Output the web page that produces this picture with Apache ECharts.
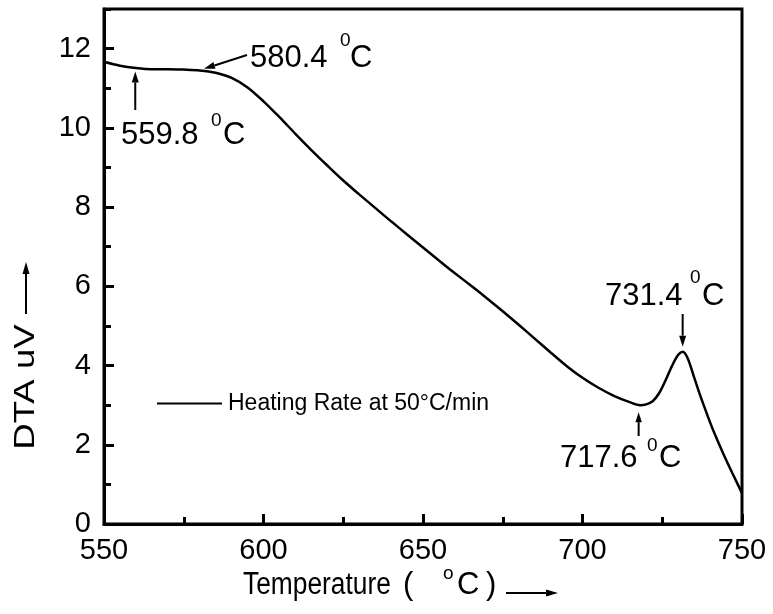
<!DOCTYPE html>
<html>
<head>
<meta charset="utf-8">
<title>DTA curve</title>
<script src="https://cdn.jsdelivr.net/npm/echarts@6/dist/echarts.min.js"></script>
<style>
  html, body { margin: 0; padding: 0; background: #ffffff; }
  #main { width: 773px; height: 614px; }
</style>
</head>
<body>
<div id="main"></div>
<script>
// DTA signal (uV) against temperature (°C), heating rate 50 °C/min
const temperatures = [550, 555, 560, 565, 570, 575, 580, 585, 590, 595,
  600, 605, 610, 615, 620, 625, 630, 635, 640, 645,
  650, 655, 660, 665, 670, 675, 680, 685, 690, 695,
  700, 705, 710, 715, 718, 720, 722, 724, 726, 728,
  730, 731.4, 733, 735, 737, 739, 741, 744, 747, 750];
const dtaValues = [11.67, 11.57, 11.51, 11.48, 11.48, 11.47, 11.45, 11.39, 11.26, 11.02,
  10.67, 10.27, 9.85, 9.44, 9.05, 8.67, 8.32, 7.98, 7.64, 7.31,
  6.98, 6.65, 6.33, 6.02, 5.70, 5.37, 5.03, 4.68, 4.33, 3.99,
  3.69, 3.44, 3.23, 3.07, 3.00, 3.02, 3.10, 3.30, 3.62, 3.98,
  4.27, 4.35, 4.18, 3.70, 3.22, 2.78, 2.36, 1.80, 1.28, 0.78];

const xTickLabels = [550, 600, 650, 700, 750];
const yTickLabels = [0, 2, 4, 6, 8, 10, 12];
const yTop = 13;

// Characteristic temperatures marked on the curve
const markTemps = [559.8, 580.4, 717.6, 731.4];
const markValues = [11.50, 11.44, 3.00, 4.35];
const markLabels = ['559.8', '580.4', '717.6', '731.4'];

const seriesName = 'Heating Rate at 50°C/min';
const FONT = '"Liberation Sans", Arial, Helvetica, sans-serif';

const chart = echarts.init(document.getElementById('main'), null, { renderer: 'canvas' });

const xMin = xTickLabels[0], xMax = xTickLabels[xTickLabels.length - 1];
const xStep = xTickLabels[1] - xTickLabels[0];

const option = {
  backgroundColor: '#ffffff',
  animation: false,
  grid: {
    left: 104, right: 31, top: 9, bottom: 90,
    show: true, borderColor: '#000', borderWidth: 3, backgroundColor: 'transparent'
  },
  legend: {
    left: 157, top: 392, padding: 0,
    data: [seriesName],
    icon: 'rect', itemWidth: 65, itemHeight: 2,
    itemStyle: { color: '#000' },
    textStyle: { fontFamily: FONT, fontSize: 23, color: '#000', padding: [0, 0, 0, 1] }
  },
  xAxis: [{
    type: 'value',
    min: xMin, max: xMax, interval: xStep,
    axisLine: { show: true, onZero: false, lineStyle: { color: '#000', width: 3 } },
    axisTick: { show: true, inside: true, length: 10, lineStyle: { color: '#000', width: 3 } },
    splitLine: { show: false },
    axisLabel: { color: '#000', fontFamily: FONT, fontSize: 29, margin: 12 }
  }, {
    // half-step minor ticks
    type: 'value',
    position: 'bottom',
    min: xMin, max: xMax, interval: xStep / 2,
    axisLine: { show: false, onZero: false },
    axisTick: { show: true, inside: true, length: 7, lineStyle: { color: '#000', width: 3 } },
    splitLine: { show: false },
    axisLabel: { show: false }
  }],
  yAxis: [{
    type: 'value',
    min: yTickLabels[0], max: yTop,
    interval: yTickLabels[1] - yTickLabels[0],
    axisLine: { show: true, onZero: false, lineStyle: { color: '#000', width: 3 } },
    axisTick: { show: true, inside: true, length: 10, lineStyle: { color: '#000', width: 3 } },
    splitLine: { show: false },
    axisLabel: { color: '#000', fontFamily: FONT, fontSize: 29, margin: 13, showMaxLabel: false }
  }, {
    // minor ticks at every unit
    type: 'value',
    position: 'left',
    min: yTickLabels[0], max: yTop, interval: 1,
    axisLine: { show: false, onZero: false },
    axisTick: { show: true, inside: true, length: 7, lineStyle: { color: '#000', width: 3 } },
    splitLine: { show: false },
    axisLabel: { show: false }
  }],
  series: [{
    name: seriesName,
    type: 'line',
    xAxisIndex: 0,
    yAxisIndex: 0,
    data: temperatures.map((t, i) => [t, dtaValues[i]]),
    smooth: 0.3,
    symbol: 'none',
    lineStyle: { color: '#000', width: 2.5 },
    itemStyle: { color: '#000' }
  }]
};

chart.setOption(option);

// ---- annotations -------------------------------------------------------
const toPx = (t, v) => chart.convertToPixel({ seriesIndex: 0 }, [t, v]);

function arrow(tail, tip, headLen, headW) {
  headLen = headLen || 10; headW = headW || 3.5;
  const dx = tip[0] - tail[0], dy = tip[1] - tail[1];
  const L = Math.hypot(dx, dy), ux = dx / L, uy = dy / L;
  const bx = tip[0] - ux * headLen, by = tip[1] - uy * headLen;
  const nx = -uy, ny = ux;
  return [
    { type: 'line', silent: true,
      shape: { x1: tail[0], y1: tail[1], x2: bx, y2: by },
      style: { stroke: '#000', lineWidth: 2 } },
    { type: 'polygon', silent: true,
      shape: { points: [[tip[0], tip[1]], [bx + nx * headW, by + ny * headW], [bx - nx * headW, by - ny * headW]] },
      style: { fill: '#000' } }
  ];
}

function txt(x, y, s, size, align, extra) {
  const el = {
    type: 'text', x: x, y: y, silent: true,
    style: {
      text: s, fill: '#000', font: size + 'px ' + FONT,
      align: align || 'left', verticalAlign: 'middle',
      textAlign: align || 'left', textVerticalAlign: 'middle'
    }
  };
  return Object.assign(el, extra || {});
}

// temperature label: number, raised "0", then "C"
function tempLabel(num, left, cy, supLeft, supCy, cLeft) {
  return [txt(left, cy, num, 31), txt(supLeft, supCy, '0', 19), txt(cLeft, cy, 'C', 31)];
}

const tips = markTemps.map((t, i) => toPx(t, markValues[i]));
let g = [];

// 559.8 — arrow from below
g = g.concat(arrow([tips[0][0], 110], [tips[0][0], tips[0][1] + 3], 11, 3.5));
g = g.concat(tempLabel(markLabels[0], 121, 135, 211, 121, 223));

// 580.4 — slanted arrow from the label
g = g.concat(arrow([247, 55], [tips[1][0] + 3, tips[1][1] - 2], 11, 3.5));
g = g.concat(tempLabel(markLabels[1], 250, 58, 340, 41, 350));

// 717.6 — arrow from below
g = g.concat(arrow([tips[2][0], 436], [tips[2][0], tips[2][1] + 7], 10, 3.2));
g = g.concat(tempLabel(markLabels[2], 560, 458, 647, 446, 659));

// 731.4 — arrow from above
g = g.concat(arrow([tips[3][0], 314], [tips[3][0], tips[3][1] - 5], 11, 3.5));
g = g.concat(tempLabel(markLabels[3], 605, 296, 690, 278, 702));

// ---- axis titles ----------------------------------------------------------
// x title: Temperature ( °C ) →   (slightly condensed lettering)
g.push(txt(243, 585, 'Temperature', 31, 'left', { scaleX: 0.85 }));
g.push(txt(403, 585, '(', 31));
g.push(txt(443, 574, 'o', 19));
g.push(txt(457, 585, 'C', 31));
g.push(txt(486, 585, ')', 31));
g = g.concat(arrow([506, 593], [558, 593], 12, 3.5));

// y title: DTA uV →, reading upward (slightly stretched lettering)
g.push({
  type: 'text', silent: true, x: 26, y: 387, rotation: Math.PI / 2, scaleX: 1.22,
  style: {
    text: 'DTA uV', fill: '#000', font: '30px ' + FONT,
    align: 'center', verticalAlign: 'middle',
    textAlign: 'center', textVerticalAlign: 'middle'
  }
});
g = g.concat(arrow([26, 314], [26, 262], 12, 3.5));

chart.setOption({ graphic: g });
</script>
</body>
</html>
